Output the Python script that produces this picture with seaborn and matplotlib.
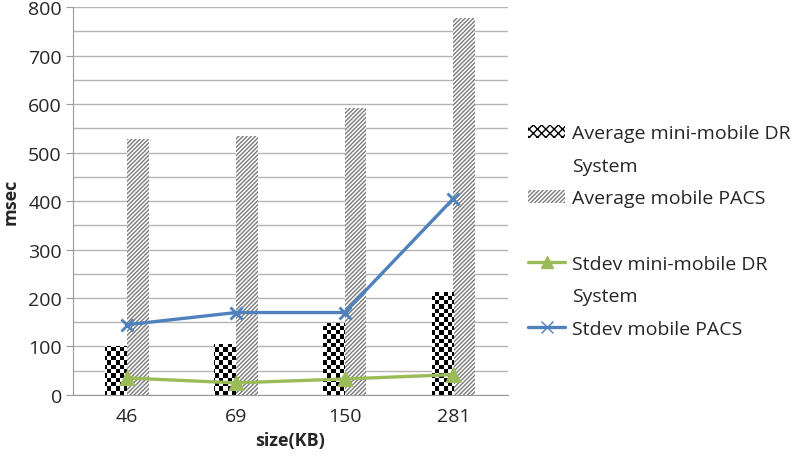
import seaborn as sns
import matplotlib.pyplot as plt
import numpy as np
import pandas as pd
from matplotlib.patches import Patch
from matplotlib.lines import Line2D
from matplotlib.ticker import MultipleLocator

sizes = ["46", "69", "150", "281"]
avg_mini = [100, 105, 148, 212]
avg_pacs = [528, 535, 592, 778]
std_mini = [35, 25, 33, 42]
std_pacs = [145, 170, 170, 405]

bar_names = ["Average mini-mobile DR System", "Average mobile PACS"]
line_names = ["Stdev mini-mobile DR System", "Stdev mobile PACS"]

bars = pd.DataFrame({
    "size": sizes * 2,
    "msec": avg_mini + avg_pacs,
    "series": [bar_names[0]] * 4 + [bar_names[1]] * 4,
})
lines = pd.DataFrame({
    "size": sizes * 2,
    "msec": std_mini + std_pacs,
    "series": [line_names[0]] * 4 + [line_names[1]] * 4,
})

sns.set_style("white")
plt.rcParams["font.family"] = ["Open Sans", "DejaVu Sans"]
plt.rcParams["hatch.linewidth"] = 1.0

green = "#9bbb59"
blue = "#4f81bd"
grid_c = "#b4b4b4"
hatch_c = "#7a7a7a"

fig = plt.figure(figsize=(7.92, 4.64), dpi=100)
ax = fig.add_axes([0.092, 0.1466, 0.549, 0.836])

sns.barplot(data=bars, x="size", y="msec", hue="series", order=sizes,
            palette=["white", "white"], width=0.4, ax=ax, legend=False,
            linewidth=0, zorder=2)
ax.set_ylim(0, 800)
ax.set_xlim(-0.5, 3.5)

# checkerboard texture for the mini-mobile bars, clipped to each bar
w_px = fig.get_figwidth() * fig.dpi * ax.get_position().width
h_px = fig.get_figheight() * fig.dpi * ax.get_position().height
cell = 4.3
nx, ny = int(w_px / cell), int(h_px / cell)
checker = np.indices((ny, nx)).sum(axis=0) % 2
extent = list(ax.get_xlim()) + list(ax.get_ylim())
for p in ax.containers[0]:
    im = ax.imshow(checker, cmap="gray", extent=extent, aspect="auto",
                   interpolation="nearest", zorder=2.1)
    im.set_clip_path(p)

# diagonal lines for the PACS bars
for p in ax.containers[1]:
    p.set_hatch("////////")
    p.set_edgecolor(hatch_c)
    p.set_linewidth(0)

sns.pointplot(data=lines, x="size", y="msec", hue="series", order=sizes,
              palette=[green, blue], markers=["^", "x"], linestyles="-",
              ax=ax, legend=False, errorbar=None)
for ln in ax.lines:
    ln.set_linewidth(2.4)
    ln.set_markersize(9)
    ln.set_zorder(3)

ax.set_ylim(0, 800)
ax.set_xlim(-0.5, 3.5)
ax.yaxis.set_major_locator(MultipleLocator(100))
ax.yaxis.set_minor_locator(MultipleLocator(50))
ax.grid(axis="y", which="both", color=grid_c, linewidth=1.0, zorder=0)
ax.set_axisbelow(True)
for side in ["top", "right"]:
    ax.spines[side].set_visible(False)
for side in ["left", "bottom"]:
    ax.spines[side].set_color("#9a9a9a")
ax.tick_params(axis="y", which="major", length=5, color="#9a9a9a", labelsize=14, pad=3, left=True)
ax.tick_params(axis="y", which="minor", length=0)
ax.tick_params(axis="x", length=0, labelsize=14, pad=9)

ax.set_xlabel("size(KB)", fontsize=13, fontweight="bold", labelpad=4)
ax.set_ylabel("msec", fontsize=13, fontweight="bold", labelpad=6)

blank = Line2D([], [], linestyle="none")
handles = [
    Patch(facecolor="white", edgecolor="black", hatch="xxxx", linewidth=0),
    blank,
    Patch(facecolor="white", edgecolor=hatch_c, hatch="////////", linewidth=0),
    blank,
    Line2D([], [], color=green, marker="^", linewidth=2.4, markersize=9),
    blank,
    Line2D([], [], color=blue, marker="x", linewidth=2.4, markersize=9),
]
labels = ["Average mini-mobile DR", "System", "Average mobile PACS", " ",
          "Stdev mini-mobile DR", "System", "Stdev mobile PACS"]
fig.legend(handles, labels, loc="upper left", bbox_to_anchor=(0.657, 0.747),
           frameon=False, fontsize=14, handlelength=1.9, handletextpad=0.36,
           labelspacing=0.75, borderaxespad=0)

fig.savefig("out.png", dpi=100)
